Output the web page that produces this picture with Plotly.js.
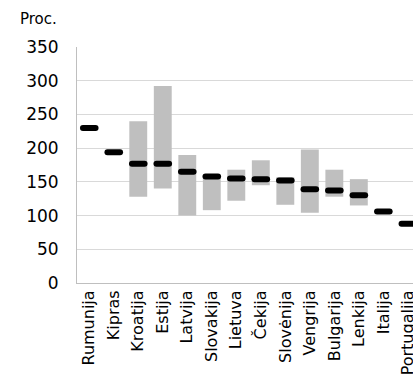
<!DOCTYPE html>
<html><head><meta charset="utf-8">
<script src="https://cdn.plot.ly/plotly-3.0.1.min.js"></script>
<style>html,body{margin:0;padding:0;background:#fff}#chart{width:413px;height:374px}
.scatterlayer path.point{stroke-linecap:round}</style>
</head><body><div id="chart"></div>
<script>
const countries = ["Rumunija","Kipras","Kroatija","Estija","Latvija","Slovakija","Lietuva","Čekija","Slovėnija","Vengrija","Bulgarija","Lenkija","Italija","Portugalija"];
const rangeLow  = [null,null,128,140,100,108,122,145,116,104,128,115,null,null];
const rangeHigh = [null,null,240,292,190,160,168,182,157,198,168,154,null,null];
const midValue  = [230,194,177,177,165,158,155,154,152,139,137,130,106,88];

const span = rangeHigh.map((h,i)=> (h==null||rangeLow[i]==null)?null:h-rangeLow[i]);

const traces = [
  {type:'bar', x:countries, y:span, base:rangeLow, width:0.73,
   marker:{color:'#bfbfbf'}, hoverinfo:'skip', showlegend:false},
  {type:'scatter', mode:'markers', x:countries, y:midValue,
   marker:{symbol:'line-ew', size:9, line:{width:6, color:'#000'}, color:'#000'},
   showlegend:false, cliponaxis:false}
];

const layout = {
  width:413, height:374,
  margin:{l:77, r:0, t:47, b:91},
  paper_bgcolor:'#fff', plot_bgcolor:'#fff',
  font:{family:'DejaVu Sans, Verdana, sans-serif', color:'#000'},
  showlegend:false,
  xaxis:{type:'category', range:[-0.5,13.21], tickangle:-90,
    tickfont:{size:16, family:'DejaVu Sans'}, ticks:'', showgrid:false,
    showline:true, linecolor:'#bfbfbf', linewidth:1, zeroline:false, automargin:false},
  yaxis:{range:[0,350], dtick:50, tickfont:{size:17, family:'DejaVu Sans'},
    showgrid:true, gridcolor:'#d9d9d9', gridwidth:1, showline:true, linecolor:'#bfbfbf',
    linewidth:1, zeroline:false, ticks:'', ticklabelstandoff:14, automargin:false},
  annotations:[{text:'Proc.', xref:'paper', yref:'paper', x:0, xshift:-59, y:1.0, yshift:17,
    xanchor:'left', yanchor:'bottom', showarrow:false, font:{size:15, family:'DejaVu Sans'}}]
};
Plotly.newPlot('chart', traces, layout, {displayModeBar:false, staticPlot:true});
</script></body></html>
